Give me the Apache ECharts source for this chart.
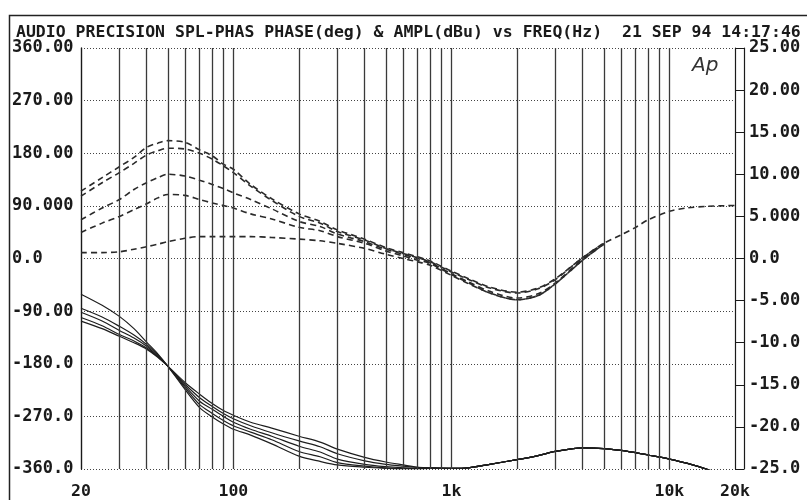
<!DOCTYPE html>
<html>
<head>
<meta charset="utf-8">
<title>AUDIO PRECISION SPL-PHAS</title>
<script src="https://cdn.jsdelivr.net/npm/echarts@6/dist/echarts.min.js"></script>
<style>html,body{margin:0;padding:0;background:#fff}#chart{width:807px;height:500px}</style>
</head>
<body>
<div id="chart"></div>
<script>
// frequencies (Hz) shared by all traces
var freqs = [20,25,30,35,40,45,50,60,70,80,90,
  100,120,150,200,250,300,400,500,600,700,800,
  1000,1200,1500,2000,2500,3000,4000,5000,6000,7000,8000,10000,12000,15000,20000];

// amplitude (dBu), dashed traces, right axis
// above 5k the five traces lie on top of each other, so only ampA is drawn there
var ampA = [8.0,9.6,10.9,12.0,13.2,13.7,14.0,13.8,12.9,12.2,11.2,
  10.6,8.8,7.1,5.3,4.4,3.4,2.3,1.3,0.7,0.2,-0.3,
  -1.5,-2.4,-3.4,-4.0,-3.5,-2.4,0.1,1.8,2.8,3.7,4.6,5.6,6.0,6.2,6.3];
var ampB = [7.4,9.0,10.2,11.3,12.3,12.8,13.1,13.0,12.5,11.8,11.0,
  10.2,8.6,6.9,5.0,4.2,3.2,2.2,1.2,0.6,0.1,-0.4,
  -1.6,-2.5,-3.5,-4.1,-3.6,-2.5,0.1,1.8,null,null,null,null,null,null,null];
var ampC = [4.6,6.0,7.0,8.2,9.0,9.6,10.0,9.8,9.3,8.8,8.3,
  7.8,7.0,5.9,4.4,3.8,2.9,2.0,1.1,0.5,0.0,-0.5,
  -1.8,-2.8,-3.9,-4.7,-4.2,-2.9,-0.1,1.7,null,null,null,null,null,null,null];
var ampD = [3.1,4.2,5.0,5.8,6.5,7.2,7.6,7.5,7.0,6.6,6.3,
  6.0,5.3,4.7,3.7,3.3,2.6,1.8,0.9,0.3,-0.2,-0.6,
  -1.9,-2.9,-4.1,-4.9,-4.4,-3.0,-0.2,1.7,null,null,null,null,null,null,null];
var ampE = [0.7,0.7,0.8,1.1,1.4,1.7,2.0,2.4,2.6,2.6,2.6,
  2.6,2.6,2.5,2.3,2.1,1.8,1.2,0.5,0.0,-0.4,-0.8,
  -2.0,-3.0,-4.1,-4.9,-4.4,-3.0,-0.2,1.7,null,null,null,null,null,null,null];

// phase (deg), solid traces, left axis
var phaseA = [-61,-80,-99,-120,-143,-163,-184,-224,-255,-271,-283,
  -292,-302,-317,-338,-347,-353,-357,-359,-360,-360,-359,
  -359,-358,-352,-344,-337,-330,-324,-325,-328,-332,-336,-343,-350,-361,-378];
var phaseB = [-85,-100,-116,-131,-147,-165,-184,-221,-250,-265,-277,
  -286,-297,-310,-330,-339,-349,-355,-358,-359,-359,-359,
  -359,-358,-352,-344,-337,-330,-324,-325,-328,-332,-336,-343,-350,-361,-378];
var phaseC = [-92,-107,-123,-136,-150,-167,-184,-218,-244,-258,-270,
  -280,-292,-304,-321,-331,-343,-352,-356,-358,-359,-359,
  -359,-358,-352,-344,-337,-330,-324,-325,-328,-332,-336,-343,-350,-361,-378];
var phaseD = [-101,-115,-130,-141,-153,-168,-184,-215,-238,-253,-265,
  -274,-286,-298,-312,-322,-334,-346,-352,-355,-357,-358,
  -359,-358,-352,-344,-337,-330,-324,-325,-328,-332,-336,-343,-350,-361,-378];
var phaseE = [-107,-120,-133,-144,-155,-169,-184,-212,-232,-248,-260,
  -268,-280,-290,-304,-314,-326,-340,-348,-353,-357,-358,
  -359,-358,-352,-344,-337,-330,-324,-325,-328,-332,-336,-343,-350,-361,-378];

// tick labels
var freqTicks = [20, 100, 1000, 10000, 20000];
var freqTickLabels = ['20', '100', '1k', '10k', '20k'];
var phaseTicks = [360, 270, 180, 90, 0, -90, -180, -270, -360];
var phaseTickLabels = ['360.00', '270.00', '180.00', '90.000', '0.0', '-90.00', '-180.0', '-270.0', '-360.0'];
var ampTicks = [25, 20, 15, 10, 5, 0, -5, -10, -15, -20, -25];
var ampTickLabels = ['25.00', '20.00', '15.00', '10.00', '5.000', '0.0', '-5.00', '-10.0', '-15.0', '-20.0', '-25.0'];
// vertical grid lines (1-2-3...9 per decade)
var gridFreqs = [30,40,50,60,70,80,90,100,200,300,400,500,600,700,800,900,
  1000,2000,3000,4000,5000,6000,7000,8000,9000,10000];

var titleText = 'AUDIO PRECISION SPL-PHAS PHASE(deg) & AMPL(dBu) vs FREQ(Hz)  21 SEP 94 14:17:46';

var MONO = '"DejaVu Sans Mono", "Liberation Mono", monospace';

function pick(ticks, labels, v) {
  var best = 0;
  for (var i = 0; i < ticks.length; i++) {
    if (Math.abs(ticks[i] - v) < Math.abs(ticks[best] - v)) best = i;
  }
  return labels[best];
}
function zip(ys) {
  return freqs.map(function (f, i) { return [f, ys[i]]; });
}

var myChart = echarts.init(document.getElementById('chart'));

var dashed = {color: '#2a2a2a', width: 1.6, type: [6, 4]};
var solid = {color: '#1e1e1e', width: 1.2};

var ampSeries = [ampA, ampB, ampC, ampD, ampE].map(function (a, i) {
  return {name: 'ampl' + i, type: 'line', yAxisIndex: 1, data: zip(a), smooth: 0.3,
    showSymbol: false, lineStyle: dashed, silent: true, connectNulls: false};
});
var phaseSeries = [phaseA, phaseB, phaseC, phaseD, phaseE].map(function (a, i) {
  return {name: 'phase' + i, type: 'line', yAxisIndex: 0, data: zip(a), smooth: 0.3,
    showSymbol: false, lineStyle: solid, silent: true, clip: true};
});

// vertical grid lines hang off the first phase trace
phaseSeries[0].markLine = {
  silent: true, symbol: 'none', label: {show: false},
  lineStyle: {color: '#3a3a3a', width: 1.3, type: 'solid'},
  data: gridFreqs.map(function (f) { return {xAxis: f}; })
};

var option = {
  animation: false,
  backgroundColor: '#fff',
  title: {
    text: titleText, left: 11, top: 19,
    textStyle: {fontFamily: MONO, fontWeight: 'bold', fontSize: 16.5, color: '#1a1a1a'}
  },
  grid: {left: 81, right: 72, top: 48, bottom: 30},
  xAxis: {
    type: 'log', logBase: 10, min: 20, max: 20000,
    axisLine: {show: false}, axisTick: {show: false}, splitLine: {show: false},
    axisLabel: {
      showMinLabel: true, showMaxLabel: true, margin: 14,
      fontFamily: MONO, fontWeight: 'bold', fontSize: 16.5, color: '#1a1a1a',
      formatter: function (v) { return pick(freqTicks, freqTickLabels, v); }
    }
  },
  yAxis: [
    {
      type: 'value', min: -360, max: 360, interval: 90, position: 'left',
      axisLine: {show: true, lineStyle: {color: '#1a1a1a', width: 1.4}},
      axisTick: {show: false},
      splitLine: {show: true, lineStyle: {color: '#444', width: 1, type: [1, 2]}},
      axisLabel: {
        align: 'left', margin: 69,
        fontFamily: MONO, fontWeight: 'bold', fontSize: 17, color: '#1a1a1a',
        formatter: function (v) { return pick(phaseTicks, phaseTickLabels, v); }
      }
    },
    {
      type: 'value', min: -25, max: 25, interval: 5, position: 'right', offset: 9,
      axisLine: {show: true, lineStyle: {color: '#1a1a1a', width: 1.2}},
      axisTick: {show: true, inside: true, length: 9, lineStyle: {color: '#1a1a1a', width: 1}},
      splitLine: {show: false},
      axisLabel: {
        margin: 5,
        fontFamily: MONO, fontWeight: 'bold', fontSize: 17, color: '#1a1a1a',
        formatter: function (v) { return pick(ampTicks, ampTickLabels, v); }
      }
    },
    {
      type: 'value', min: -25, max: 25, interval: 5, position: 'right', offset: 0,
      axisLine: {show: true, lineStyle: {color: '#1a1a1a', width: 1.2}},
      axisTick: {show: false}, axisLabel: {show: false}, splitLine: {show: false}
    }
  ],
  graphic: [
    {type: 'rect', left: 7, top: 13, silent: true,
      shape: {width: 799, height: 492},
      style: {fill: 'none', stroke: '#222', lineWidth: 1.5}},
    {type: 'text', left: 692, top: 56, silent: true,
      style: {text: 'Ap', font: 'italic 20px "DejaVu Sans"', fill: '#333'}}
  ],
  series: phaseSeries.concat(ampSeries)
};
myChart.setOption(option);
</script>
</body>
</html>
